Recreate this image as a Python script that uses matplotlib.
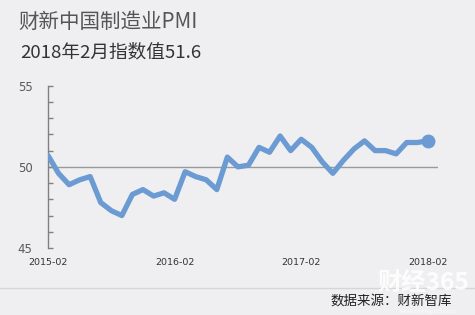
import matplotlib
matplotlib.use("Agg")
import matplotlib.pyplot as plt
from matplotlib.lines import Line2D

plt.rcParams['font.family'] = ['Noto Sans CJK SC', 'DejaVu Sans']

# Caixin China manufacturing PMI, monthly, 2015-02 .. 2018-02
pmi = [50.7, 49.6, 48.9, 49.2, 49.4, 47.8, 47.3, 47.0, 48.3, 48.6, 48.2,
       48.4, 48.0, 49.7, 49.4, 49.2, 48.6, 50.6, 50.0, 50.1, 51.2, 50.9, 51.9,
       51.0, 51.7, 51.2, 50.3, 49.6, 50.4, 51.1, 51.6, 51.0, 51.0, 50.8, 51.5,
       51.5, 51.6]
tick_pos = [0, 12, 24, 36]
tick_labels = ["2015-02", "2016-02", "2017-02", "2018-02"]
y_labels = [45, 50, 55]

title = "财新中国制造业PMI"
subtitle = "2018年2月指数值51.6"
source = "数据来源：财新智库"

W, H = 475, 315
bg = "#efeff1"
blue = "#6b9bd2"

fig = plt.figure(figsize=(W / 100, H / 100), dpi=100, facecolor=bg)
ax = fig.add_axes([48 / W, 1 - 248 / H, (438 - 48) / W, (248 - 85.7) / H])
ax.set_facecolor(bg)

ax.axhline(50, color="#9a9a9a", lw=1.0, zorder=1)
x = list(range(len(pmi)))
ax.plot(x, pmi, color=blue, lw=3.8, solid_joinstyle="round",
        solid_capstyle="round", zorder=3)
ax.plot([x[-1]], [pmi[-1]], "o", color=blue, ms=9, zorder=4)

ax.set_xlim(0, (438 - 48) / 10.55)
ax.set_ylim(45, 55)

for s in ["top", "right", "bottom"]:
    ax.spines[s].set_visible(False)
ax.spines["left"].set_color("#808080")
ax.spines["left"].set_linewidth(1.0)

ax.set_yticks(range(45, 56))
ax.set_yticklabels([str(v) if v in y_labels else "" for v in range(45, 56)])
ax.tick_params(axis="y", direction="in", length=3.5, width=1.0,
               color="#808080", labelcolor="#595959", labelsize=8.5, pad=11)
ax.set_xticks(tick_pos)
ax.set_xticklabels(tick_labels)
ax.tick_params(axis="x", length=0, labelsize=6.8, labelcolor="#333333", pad=7)
for lbl in ax.get_xticklabels() + ax.get_yticklabels():
    lbl.set_family("DejaVu Sans")

fig.text(18 / W, 1 - 22 / H, title, fontsize=14.8, color="#555555",
         va="center", ha="left")
fig.text(20 / W, 1 - 52 / H, subtitle, fontsize=13.4, color="#333333",
         va="center", ha="left")

fig.add_artist(Line2D([0, 1], [1 - 288 / H, 1 - 288 / H],
                      transform=fig.transFigure, color="#d6d6d8", lw=1.0))

fig.text(377 / W, 1 - 283 / H, "财经365", fontsize=17.5, fontweight="bold",
         color="white", alpha=0.85, va="center", ha="left")
fig.text(428 / W, 1 - 311 / H, "www.caijing365.com", fontsize=4,
         color="white", alpha=0.8, va="center", ha="center",
         family="DejaVu Sans")
fig.text(452 / W, 1 - 301 / H, source, fontsize=9.7, color="#222222",
         va="center", ha="right")

fig.savefig("out.png", dpi=100, facecolor=bg)
